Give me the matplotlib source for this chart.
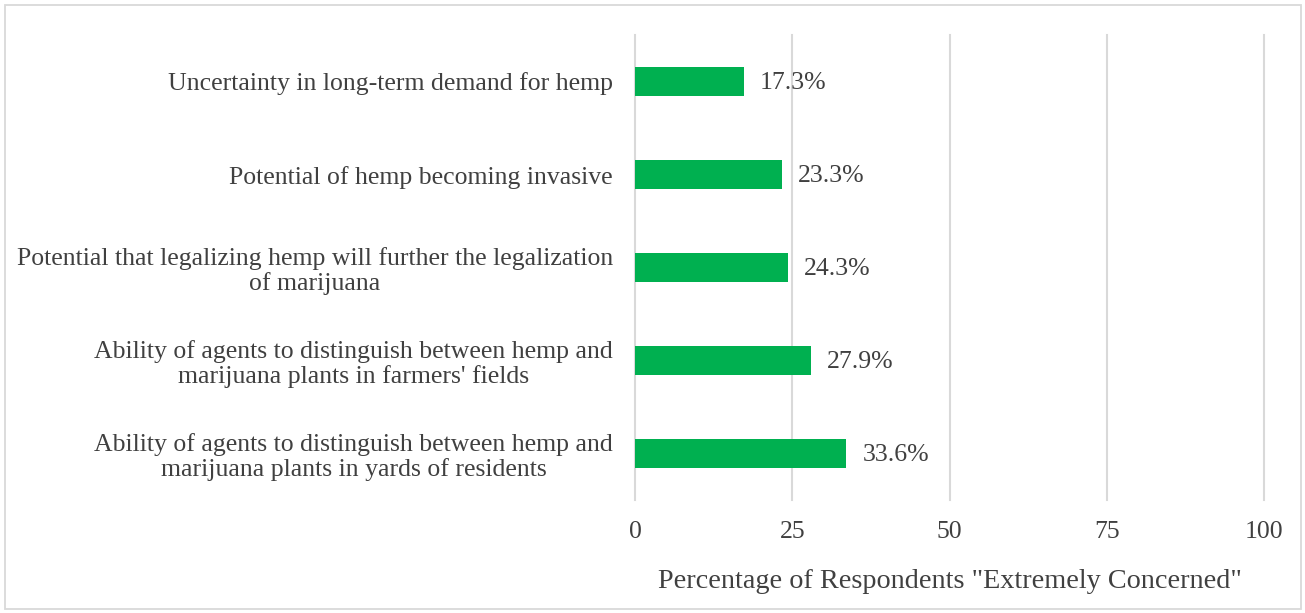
import matplotlib.pyplot as plt
from matplotlib.patches import Rectangle

# survey results, bottom to top as drawn
concerns = [
    "Ability of agents to distinguish between hemp and\nmarijuana plants in yards of residents",
    "Ability of agents to distinguish between hemp and\nmarijuana plants in farmers' fields",
    "Potential that legalizing hemp will further the legalization\nof marijuana",
    "Potential of hemp becoming invasive",
    "Uncertainty in long-term demand for hemp",
]
pct_extremely = [33.6, 27.9, 24.3, 23.3, 17.3]
xticks = [0, 25, 50, 75, 100]

txt = '#404040'
green = '#00B050'
grid = '#D9D9D9'

plt.rcParams['font.family'] = ['Liberation Serif', 'DejaVu Serif']

fig = plt.figure(figsize=(13.05, 6.13), dpi=100)
ax = fig.add_axes([0.4866, 0.1843, 0.4820, 0.7586])

ypos = list(range(len(concerns)))
ax.barh(ypos, pct_extremely, height=0.32, color=green, zorder=3)
for y, v in zip(ypos, pct_extremely):
    ax.annotate(f"{v:.1f}%", (v, y), xytext=(11.5, -1), textcoords='offset points',
                va='center', ha='left', fontsize=18.5, color=txt)

ax.set_xlim(0, 100)
ax.set_ylim(-0.5, len(concerns) - 0.5)
ax.set_xticks(xticks)
ax.set_yticks(ypos)
ax.set_yticklabels(concerns, ha='right', multialignment='center', fontsize=18.5,
                   color=txt, linespacing=1.12)
ax.tick_params(axis='y', length=0, pad=16)
ax.tick_params(axis='x', length=0, pad=15, labelsize=18.5, labelcolor=txt)

ax.xaxis.grid(True, color=grid, linewidth=1.5, zorder=0)
for gl in ax.xaxis.get_gridlines():
    gl.set_clip_on(False)
for s in ax.spines.values():
    s.set_visible(False)
ax.set_xlabel('Percentage of Respondents "Extremely Concerned"', fontsize=20.3,
              color=txt, labelpad=18.5)

fig.patches.append(Rectangle((0.004, 0.006), 0.993, 0.986, transform=fig.transFigure,
                             fill=False, edgecolor=grid, linewidth=1.3))

fig.savefig('out.png', dpi=100)
